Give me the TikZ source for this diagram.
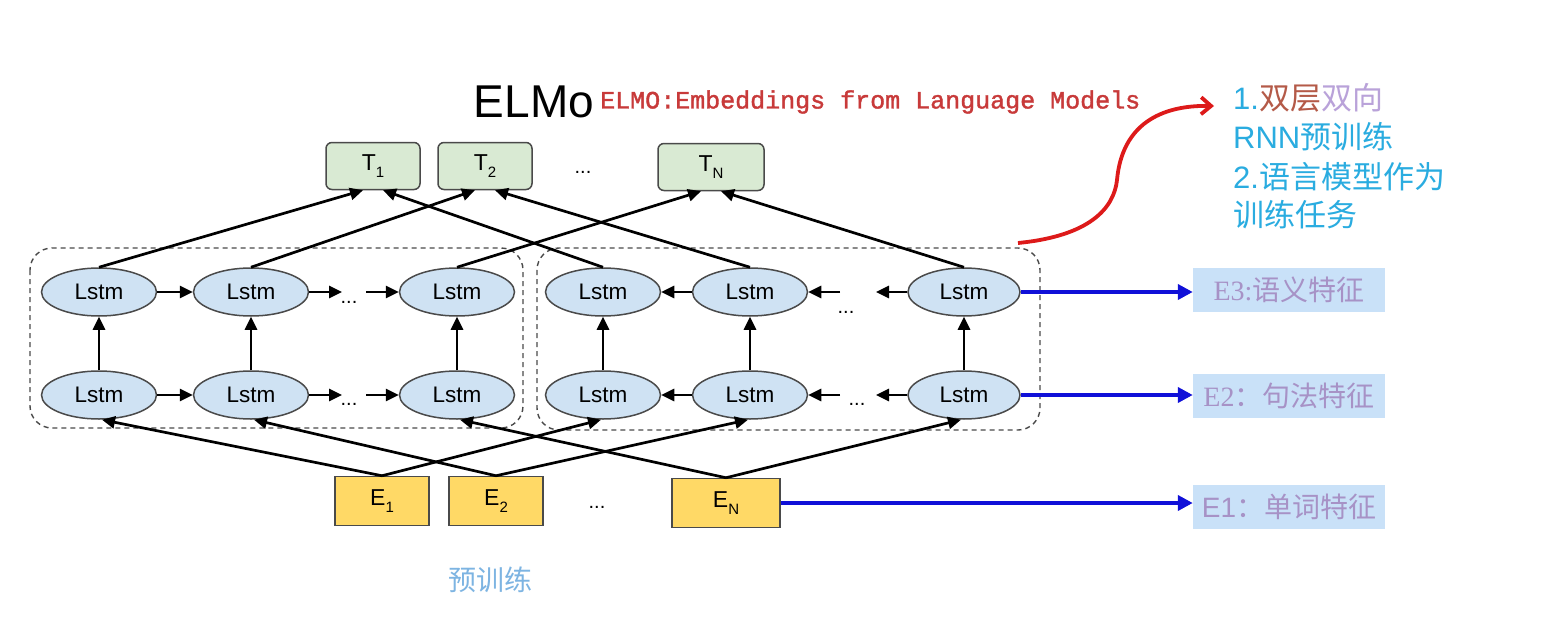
\documentclass[tikz,border=0pt]{standalone}
\usepackage{fontspec}
\setmainfont{Liberation Sans}
\newfontfamily\cjk{Noto Sans CJK SC}
\newfontfamily\redmono[FakeBold=1.5]{Liberation Mono}
\newfontfamily\labserif{Liberation Serif}
\usetikzlibrary{arrows.meta,shapes.geometric,calc}
\definecolor{lstmblue}{HTML}{CFE2F3}
\definecolor{tgreen}{HTML}{D9EAD3}
\definecolor{egold}{HTML}{FFD966}
\definecolor{edgegray}{HTML}{4A4A4A}
\definecolor{arrowblue}{HTML}{1010D8}
\definecolor{labblue}{HTML}{C9E1F8}
\definecolor{labpurple}{HTML}{A792C6}
\definecolor{titlered}{HTML}{C83A3A}
\definecolor{curvered}{HTML}{DD1A1A}
\definecolor{cyantext}{HTML}{2AACE0}
\definecolor{browntext}{HTML}{B45A48}
\definecolor{lilactext}{HTML}{B9A2D9}
\definecolor{pretrain}{HTML}{7DB4E2}
\newcommand\subs[1]{\raisebox{-7pt}{\fontsize{15}{15}\selectfont #1}}
\begin{document}
\begin{tikzpicture}[x=1pt,y=-1pt,
  lstm/.style={ellipse, draw=edgegray, line width=1.5pt, fill=lstmblue, minimum width=115pt, minimum height=48pt, inner sep=0pt, font=\fontsize{22.5}{22.5}\selectfont},
  tbox/.style={rectangle, rounded corners=6pt, draw=edgegray, line width=1.5pt, fill=tgreen, minimum width=94pt, minimum height=47pt, inner sep=0pt, font=\fontsize{23}{23}\selectfont},
  ebox/.style={rectangle, draw=edgegray, line width=1.5pt, fill=egold, minimum width=94pt, minimum height=49pt, inner sep=0pt, font=\fontsize{23}{23}\selectfont},
  conn/.style={line width=2.7pt, -{Triangle[length=13pt,width=12pt]}},
  blueconn/.style={line width=3.8pt, draw=arrowblue, -{Triangle[length=15pt,width=15pt]}},
  lab/.style={rectangle, fill=labblue, minimum width=192pt, minimum height=44pt, inner sep=0pt, text=labpurple, font=\fontsize{28}{28}\selectfont},
  grp/.style={draw=edgegray, dashed, dash pattern=on 5pt off 4pt, line width=1.4pt, rounded corners=22pt},
  dots/.style={font=\fontsize{20}{20}\selectfont, inner sep=0pt}
]
\useasboundingbox (0,0) rectangle (1543,618);
\fill[white] (0,0) rectangle (1543,618);

% title
\node[font=\fontsize{46}{46}\selectfont, inner sep=0pt] (title) at (534,102) {ELMo};
\node[font=\redmono\fontsize{25}{25}\selectfont, text=titlered, inner sep=0pt, anchor=west] (subtitle) at (600,102) {ELMO:Embeddings from Language Models};

% groups
\draw[grp] (30,248) rectangle (523,428);
\draw[grp] (537,248) rectangle (1040,430);

% T boxes
\node[tbox] (T1) at (373,166) {T\subs{1}};
\node[tbox] (T2) at (485,166) {T\subs{2}};
\node[tbox, minimum width=106pt] (TN) at (711,167) {T\subs{N}};
\node[dots] (tdots) at (583,172) {...};

% Lstm top row
\node[lstm] (L1) at (99,292) {Lstm};
\node[lstm] (L2) at (251,292) {Lstm};
\node[lstm] (L3) at (457,292) {Lstm};
\node[lstm] (R1) at (603,292) {Lstm};
\node[lstm] (R2) at (750,292) {Lstm};
\node[lstm, minimum width=112pt] (R3) at (964,292) {Lstm};
% Lstm bottom row
\node[lstm] (L1b) at (99,395) {Lstm};
\node[lstm] (L2b) at (251,395) {Lstm};
\node[lstm] (L3b) at (457,395) {Lstm};
\node[lstm] (R1b) at (603,395) {Lstm};
\node[lstm] (R2b) at (750,395) {Lstm};
\node[lstm, minimum width=112pt] (R3b) at (964,395) {Lstm};

% dots in rows
\node[dots] (d1) at (349,302) {...};
\node[dots] (d2) at (349,404) {...};
\node[dots] (d3) at (846,312) {...};
\node[dots] (d4) at (857,404) {...};

% E boxes
\node[ebox] (E1) at (382,501) {E\subs{1}};
\node[ebox] (E2) at (496,501) {E\subs{2}};
\node[ebox, minimum width=108pt] (EN) at (726,503) {E\subs{N}};
\node[dots] (edots) at (597,507) {...};

\node[font=\cjk\fontsize{28}{28}\selectfont, text=pretrain, inner sep=0pt] (pre) at (490,580) {预训练};

% label boxes
\node[lab] (lab3) at (1289,290) {\labserif E3:\cjk 语义特征};
\node[lab] (lab2) at (1289,396) {\labserif E2\cjk ：句法特征};
\node[lab] (lab1) at (1289,507) {E1\cjk ：单词特征};

% coordinates for dots arrows
\coordinate (a1) at (342,292);
\coordinate (a2) at (366,292);
\coordinate (a3) at (342,395);
\coordinate (a4) at (366,395);
\coordinate (b1) at (840,292);
\coordinate (b2) at (876,292);
\coordinate (b3) at (840,395);
\coordinate (b4) at (876,395);

% horizontal arrows forward
\draw[conn] (L1.east) -- (L2.west);
\draw[conn] (L2.east) -- (a1);
\draw[conn] (a2) -- (L3.west);
\draw[conn] (L1b.east) -- (L2b.west);
\draw[conn] (L2b.east) -- (a3);
\draw[conn] (a4) -- (L3b.west);
% horizontal arrows backward
\draw[conn] (R2.west) -- (R1.east);
\draw[conn] (b1) -- (R2.east);
\draw[conn] (R3.west) -- (b2);
\draw[conn] (R2b.west) -- (R1b.east);
\draw[conn] (b3) -- (R2b.east);
\draw[conn] (R3b.west) -- (b4);

% vertical arrows
\foreach \n in {L1,L2,L3,R1,R2,R3}{
  \draw[conn] (\n b.north) -- (\n.south);
}

% top connections
\draw[conn] (L1.north) -- ([xshift=-10pt]T1.south);
\draw[conn] (R1.north) -- ([xshift=10pt]T1.south);
\draw[conn] (L2.north) -- ([xshift=-10pt]T2.south);
\draw[conn] (R2.north) -- ([xshift=10pt]T2.south);
\draw[conn] (L3.north) -- ([xshift=-10pt]TN.south);
\draw[conn] (R3.north) -- ([xshift=10pt]TN.south);

% bottom connections
\draw[conn] (E1.north) -- ([xshift=3pt]L1b.south);
\draw[conn] (E1.north) -- ([xshift=-2pt]R1b.south);
\draw[conn] (E2.north) -- ([xshift=3pt]L2b.south);
\draw[conn] (E2.north) -- ([xshift=-2pt]R2b.south);
\draw[conn] (EN.north) -- ([xshift=3pt]L3b.south);
\draw[conn] (EN.north) -- ([xshift=-3pt]R3b.south);

% blue arrows
\draw[blueconn] (R3.east) -- (R3.east -| lab3.west);
\draw[blueconn] (R3b.east) -- (R3b.east -| lab2.west);
\draw[blueconn] (EN.east) -- (EN.east -| lab1.west);

% red curve
\coordinate (cs) at (1018,243);
\coordinate (ce) at (1214,106);
\draw[line width=3.8pt, draw=curvered, -{Straight Barb[length=10pt,width=17pt,line width=3.8pt]}]
  (cs) .. controls (1090,236) and (1114,208) .. (1117,180)
       .. controls (1122,125) and (1160,105) .. (ce);

% right text
\node[anchor=west, inner sep=0pt, font=\fontsize{31}{31}\selectfont, text=cyantext] (t1) at (1233,98) {1.{\cjk\color{browntext}双层\color{lilactext}双向}};
\node[anchor=west, inner sep=0pt, font=\fontsize{31}{31}\selectfont, text=cyantext] (t2) at (1233,137) {RNN{\cjk 预训练}};
\node[anchor=west, inner sep=0pt, font=\fontsize{31}{31}\selectfont, text=cyantext] (t3) at (1233,177) {2.{\cjk 语言模型作为}};
\node[anchor=west, inner sep=0pt, font=\fontsize{31}{31}\selectfont, text=cyantext] (t4) at (1233,215) {\cjk 训练任务};
\end{tikzpicture}
\end{document}
